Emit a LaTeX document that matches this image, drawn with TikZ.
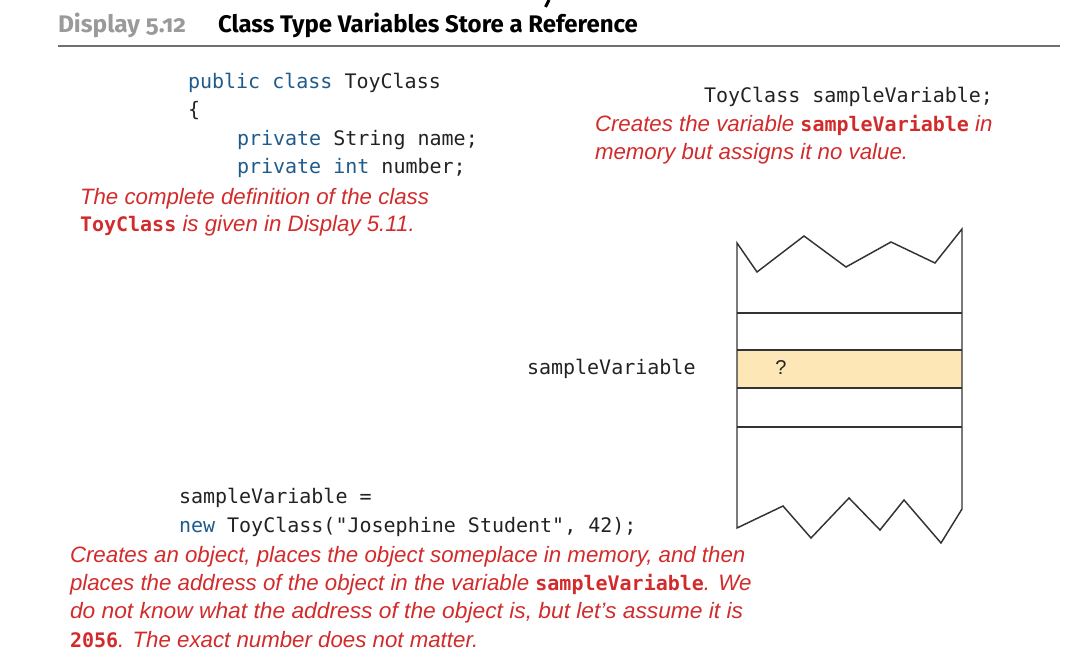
\documentclass[tikz,border=0pt]{standalone}
\usepackage{fontspec}
\setmainfont{Liberation Sans}
\setmonofont{DejaVu Sans Mono}
\newfontfamily\hdrfont[Numbers=OldStyle]{Fira Sans}
\newfontfamily\handfont{Liberation Sans}
\definecolor{redtxt}{HTML}{D22B2B}
\definecolor{kw}{HTML}{1E5B8C}
\definecolor{codetxt}{HTML}{222222}
\definecolor{memfill}{HTML}{FDE7B7}
\definecolor{memline}{HTML}{333333}
\definecolor{hdrgrey}{HTML}{9A9A9A}
\definecolor{rulegrey}{HTML}{707070}
\newcommand{\kwd}[1]{\textcolor{kw}{#1}}
\newcommand{\cd}[1]{{\ttfamily\upshape\bfseries\fontsize{15}{20}\selectfont #1}}
\begin{document}
\begin{tikzpicture}[x=0.75pt,y=-0.75pt,
  every node/.style={inner sep=0pt,outer sep=0pt},
  code/.style={anchor=base west,font=\ttfamily\fontsize{15}{20}\selectfont,text=codetxt},
  note/.style={anchor=base west,font=\handfont\itshape\fontsize{16.7}{21}\selectfont,text=redtxt},
  memln/.style={draw=memline,line width=1.1pt,line join=miter},
  hdr/.style={anchor=base west,font=\hdrfont\bfseries\fontsize{18}{22}\selectfont}]
\useasboundingbox (0,0) rectangle (1092,666);
% header
\draw[line width=2.2pt] (549,0) -- (545.5,7);
\node[hdr,text=hdrgrey] (disp) at (58,33) {\scalebox{1.02}[1]{Display 5.12}};
\node[hdr,text=black] (title) at (218,33) {Class Type Variables Store a Reference};
\coordinate (rl) at (58,46);
\coordinate (rr) at (1060,46);
\draw[rulegrey,line width=2pt] (rl) -- (rr);
% class code
\node[code] (c1) at (188,89) {\kwd{public class} ToyClass};
\node[code] (c2) at (188,117) {\{};
\node[code] (c3) at (237,146) {\kwd{private} String name;};
\node[code] (c4) at (237,174) {\kwd{private} \kwd{int} number;};
\node[note] (n1) at (80,205) {The complete definition of the class};
\node[note] (n2) at (80,232) {\cd{ToyClass} is given in Display 5.11.};
% declaration
\node[code,anchor=base east] (d1) at (993,103) {ToyClass sampleVariable;};
\node[note] (n3) at (595,132) {Creates the variable \cd{sampleVariable} in};
\node[note] (n4) at (595,160) {memory but assigns it no value.};
% memory
\node[code] (lbl) at (527,374) {sampleVariable};
\node[fill=memfill,minimum width=168.75pt,minimum height=28.5pt] (cell) at (849.5,369) {};
\draw[memln] (737,528) -- (737,243) -- (757,272) -- (804,236) -- (846,267) -- (891,242) -- (935,263) -- (962,229)
  -- (962,509) -- (941,543) -- (904,500) -- (880,530) -- (849,498) -- (811,538) -- (783,506) -- cycle;
\draw[memln] (737,313) -- (962,313);
\draw[memln] (cell.north west) -- (cell.north east);
\draw[memln] (cell.south west) -- (cell.south east);
\draw[memln] (737,427) -- (962,427);
\node[font=\fontsize{15}{18}\selectfont,text=codetxt] (q) at (781,368) {?};
% assignment
\node[code] (a1) at (179,503) {sampleVariable =};
\node[code] (a2) at (179,532) {\kwd{new} ToyClass("Josephine Student", 42);};
\node[note] (n5) at (70,562) {Creates an object, places the object someplace in memory, and then};
\node[note] (n6) at (70,590) {places the address of the object in the variable \cd{sampleVariable}. We};
\node[note] (n7) at (70,618) {\scalebox{1.023}[1]{do not know what the address of the object is, but let’s assume it is}};
\node[note] (n8) at (70,647) {\cd{2056}. The exact number does not matter.};
\end{tikzpicture}
\end{document}
